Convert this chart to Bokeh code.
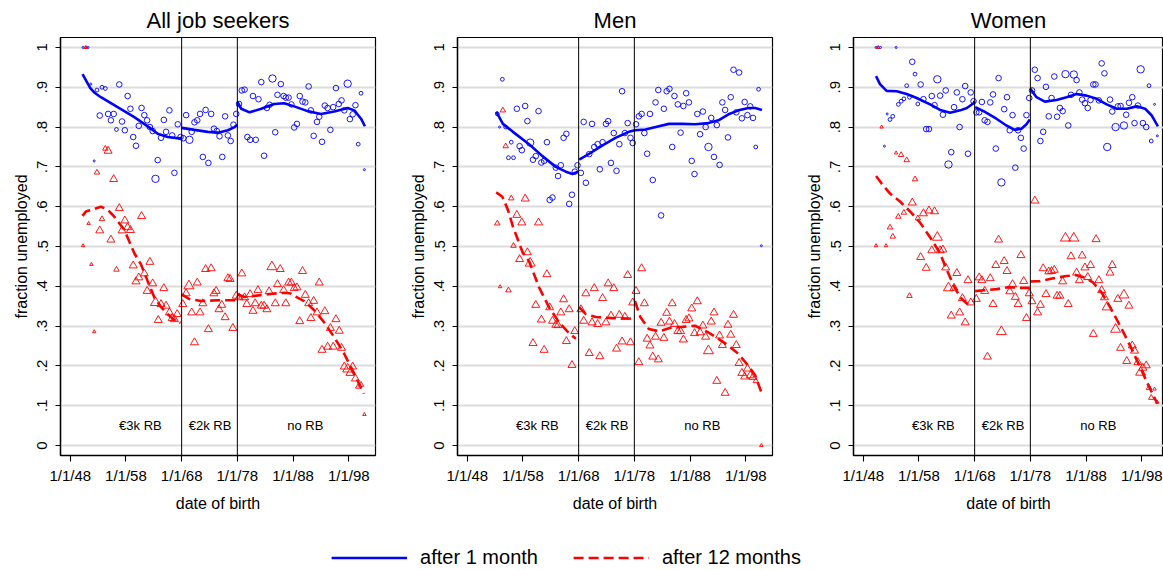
from bokeh.plotting import figure
from bokeh.models import Span, Legend, LegendItem, FixedTicker, Range1d
from bokeh.layouts import row, column
from bokeh.embed import file_html
from bokeh.resources import INLINE
from bokeh.core.properties import value

FONT = "Liberation Sans"
BLUE = "#0000ff"
RED = "#ff0000"

# ---- axes -------------------------------------------------------------
X_TICKS = [1948, 1958, 1968, 1978, 1988, 1998]
X_TICK_LABELS = ["1/1/48", "1/1/58", "1/1/68", "1/1/78", "1/1/88", "1/1/98"]
Y_TICKS = [0, 0.1, 0.2, 0.3, 0.4, 0.5, 0.6, 0.7, 0.8, 0.9, 1]
Y_TICK_LABELS = ["0", ".1", ".2", ".3", ".4", ".5", ".6", ".7", ".8", ".9", "1"]

# regime boundaries and labels
REGIME_BREAKS = [1968, 1978]
REGIME_LABELS = ["€3k RB", "€2k RB", "no RB"]
REGIME_LABEL_X = [1960.6, 1973.1, 1990.2]
REGIME_LABEL_Y = 0.05

# ---- All job seekers ----------------------------------------------------
all_x1 = [1950.3, 1950.8, 1951.2, 1951.7, 1952.3, 1952.8, 1953.3, 1953.7, 1954.3, 1954.8,
          1955.3, 1955.8, 1956.3, 1956.8, 1957.3, 1957.8, 1958.3, 1958.8, 1959.3, 1959.8,
          1960.3, 1960.8, 1961.3, 1961.8, 1962.3, 1962.8, 1963.3, 1963.7, 1964.3, 1964.8,
          1965.2, 1965.8, 1966.3, 1966.7, 1967.3, 1967.8, 1968.3, 1968.8, 1969.4, 1969.8,
          1970.3, 1970.8, 1971.3, 1971.8, 1972.3, 1972.8, 1973.3, 1973.8, 1974.3, 1974.8,
          1975.3, 1975.8, 1976.3, 1976.8, 1977.3, 1977.8, 1978.3, 1978.8, 1979.3, 1979.8,
          1980.3, 1980.8, 1981.3, 1981.8, 1982.3, 1982.8, 1983.3, 1983.8, 1984.3, 1984.8,
          1985.2, 1985.8, 1986.3, 1986.7, 1987.2, 1987.7, 1988.2, 1988.7, 1989.2, 1989.7,
          1990.2, 1990.8, 1991.2, 1991.7, 1992.3, 1992.7, 1993.2, 1993.7, 1994.2, 1994.7,
          1995.2, 1995.7, 1996.2, 1996.7, 1997.2, 1997.8, 1998.2, 1998.7, 1999.2, 1999.7,
          2000.2, 2000.8]
all_y1 = [1.0, 1.0, 1.0, .908, .715, .893, .829, .9, .897, .833,
          .817, .833, .794, .907, .814, .792, .878, .846, .775, .753,
          .803, .848, .83, .817, .8, .79, .67, .717, .773, .818,
          .788, .842, .779, .685, .807, .775, .772, .83, .768, .788,
          .812, .817, .833, .725, .843, .71, .833, .796, .79, .777,
          .725, .827, .779, .765, .806, .833, .858, .892, .894, .775,
          .768, .878, .768, .87, .913, .728, .848, .856, .922, .787,
          .881, .908, .878, .874, .874, .857, .799, .808, .878, .864,
          .862, .902, .842, .778, .813, .826, .763, .854, .848, .793,
          .85, .898, .858, .867, .842, .909, .82, .832, .855, .757,
          .885, .693]
all_size_codes = {"T": [0, 1, 2, 3, 4, 101], "S": [5, 7, 8, 12, 99, 100], "L": [26, 38, 68, 95]}

all_x12 = [1950.3, 1950.8, 1951.3, 1951.8, 1952.3, 1952.8, 1953.3, 1953.7, 1954.3, 1954.8,
           1955.3, 1955.8, 1956.3, 1956.8, 1957.3, 1957.8, 1958.3, 1958.8, 1959.3, 1959.8,
           1960.3, 1960.8, 1961.3, 1961.8, 1962.3, 1962.8, 1963.3, 1963.8, 1964.3, 1964.8,
           1965.2, 1965.8, 1966.3, 1966.7, 1967.2, 1968.2, 1968.8, 1969.3, 1969.8, 1970.3,
           1970.8, 1971.3, 1971.8, 1972.3, 1972.8, 1973.3, 1973.8, 1974.2, 1974.7, 1975.2,
           1975.8, 1976.3, 1976.7, 1977.2, 1977.8, 1978.3, 1978.8, 1979.3, 1979.7, 1980.3,
           1980.8, 1981.2, 1981.7, 1982.3, 1982.8, 1983.3, 1983.7, 1984.2, 1984.8, 1985.2,
           1985.7, 1986.3, 1986.7, 1987.2, 1987.7, 1988.2, 1988.7, 1989.2, 1989.7, 1990.2,
           1990.8, 1991.2, 1991.7, 1992.3, 1992.7, 1993.2, 1993.7, 1994.2, 1994.7, 1995.2,
           1995.7, 1996.3, 1996.7, 1997.2, 1997.8, 1998.2, 1998.7, 1999.2, 1999.7, 2000.2,
           2000.8]
all_y12 = [.502, 1.0, .558, .455, .286, .686, .54, .569, .746, .74,
           .517, .669, .442, .596, .54, .565, .548, .541, .452, .412,
           .422, .576, .432, .388, .461, .407, .359, .315, .355, .395,
           .351, .334, .32, .317, .33, .355, .382, .401, .334, .259,
           .409, .334, .357, .443, .292, .445, .382, .388, .342, .353,
           .322, .42, .418, .295, .376, .372, .432, .372, .355, .38,
           .338, .357, .39, .351, .351, .342, .387, .449, .357, .405,
           .443, .39, .357, .409, .409, .395, .397, .312, .438, .378,
           .357, .32, .363, .334, .409, .24, .337, .248, .295, .248,
           .317, .288, .245, .198, .192, .182, .198, .168, .148, .153,
           .078]

all_fit1_x = [[1950.2, 1951.6, 1952.3, 1953.5, 1956.5, 1959.5, 1962.5, 1963.7, 1965.5, 1967.9],
              [1968.0, 1970.3, 1972.7, 1974.5, 1976.3, 1977.5, 1978.0],
              [1978.0, 1978.7, 1980.2, 1982.3, 1984.6, 1986.4, 1988.2, 1990.6, 1993.0, 1995.4,
               1997.8, 1999.0, 2000.2, 2000.9]]
all_fit1_y = [[.933, .898, .887, .875, .85, .825, .796, .783, .775, .771],
              [.798, .793, .788, .786, .792, .8, .806],
              [.863, .846, .837, .846, .858, .86, .852, .84, .833, .839,
               .848, .842, .821, .802]]
all_fit12_x = [[1950.2, 1950.8, 1952.0, 1953.5, 1954.7, 1955.9, 1957.7, 1959.5, 1960.7, 1961.9,
                1963.1, 1964.3, 1965.5, 1966.7, 1967.8],
               [1968.0, 1969.4, 1971.5, 1974.5, 1978.0],
               [1978.0, 1979.3, 1981.1, 1983.4, 1986.4, 1987.6, 1988.2, 1990.0, 1991.8, 1993.6,
                1995.4, 1997.2, 1999.0, 2000.7]]
all_fit12_y = [[.577, .588, .593, .6, .593, .575, .542, .483, .455, .413,
                .372, .348, .33, .315, .308],
               [.38, .368, .363, .365, .365],
               [.38, .373, .376, .38, .384, .382, .376, .363, .34, .309,
                .272, .23, .18, .13]]

# ---- Men ---------------------------------------------------------------
men_x1 = [1953.4, 1953.8, 1954.3, 1954.9, 1955.4, 1955.9, 1956.3, 1956.9, 1957.4, 1957.8,
          1958.4, 1958.8, 1959.3, 1959.8, 1960.3, 1960.8, 1961.3, 1961.8, 1962.3, 1962.8,
          1963.3, 1963.9, 1964.3, 1964.8, 1965.3, 1965.8, 1966.3, 1966.8, 1967.3, 1967.8,
          1968.4, 1968.9, 1969.3, 1969.9, 1970.4, 1970.8, 1971.4, 1971.8, 1972.3, 1972.9,
          1973.3, 1973.8, 1974.3, 1974.8, 1975.3, 1975.8, 1976.3, 1976.8, 1977.3, 1977.7,
          1978.3, 1978.8, 1979.3, 1979.8, 1980.3, 1980.8, 1981.3, 1981.8, 1982.3, 1982.8,
          1983.3, 1983.8, 1984.3, 1984.8, 1985.2, 1985.8, 1986.3, 1986.8, 1987.3, 1987.8,
          1988.3, 1988.8, 1989.3, 1989.8, 1990.3, 1990.8, 1991.3, 1991.8, 1992.3, 1992.8,
          1993.3, 1993.8, 1994.3, 1994.8, 1995.3, 1995.8, 1996.3, 1996.8, 1997.3, 1997.8,
          1998.3, 1998.8, 1999.3, 1999.8, 2000.3, 2000.8]
men_y1 = [.833, .8, .92, .8, .723, .762, .723, .846, .752, .742,
          .853, .815, .761, .718, .727, .84, .711, .715, .762, .617,
          .623, .698, .677, .704, .773, .783, .607, .63, .688, .704,
          .685, .813, .66, .732, .808, .75, .757, .694, .762, .808,
          .815, .71, .785, .69, .757, .89, .785, .81, .773, .76,
          .807, .827, .833, .785, .733, .833, .667, .862, .893, .578,
          .846, .89, .896, .75, .878, .857, .786, .853, .885, .862,
          .715, .682, .833, .782, .839, .8, .75, .823, .725, .805,
          .705, .862, .843, .774, .875, .944, .837, .937, .822, .863,
          .83, .852, .823, .75, .895, .502]
men_size_codes = {"T": [1, 95], "S": [0, 2, 3, 4, 5, 6, 93, 94], "L": [12, 76]}

men_x12 = [1953.4, 1953.9, 1954.4, 1954.9, 1955.4, 1955.9, 1956.3, 1956.9, 1957.4, 1957.8,
           1958.4, 1958.8, 1959.3, 1959.8, 1960.3, 1960.8, 1961.3, 1961.8, 1962.3, 1962.8,
           1963.3, 1963.9, 1964.3, 1964.8, 1965.3, 1965.8, 1966.3, 1966.8, 1967.3, 1968.4,
           1968.9, 1969.3, 1969.9, 1970.4, 1970.8, 1971.4, 1971.8, 1972.3, 1972.9, 1973.3,
           1973.8, 1974.3, 1974.8, 1975.3, 1975.8, 1976.3, 1976.8, 1977.3, 1977.7, 1978.3,
           1978.8, 1979.3, 1979.8, 1980.3, 1980.8, 1981.3, 1981.8, 1982.3, 1982.8, 1983.3,
           1983.8, 1984.3, 1984.8, 1985.2, 1985.8, 1986.3, 1986.8, 1987.3, 1987.8, 1988.3,
           1988.8, 1989.3, 1989.8, 1990.3, 1990.8, 1991.3, 1991.8, 1992.3, 1992.8, 1993.3,
           1993.8, 1994.3, 1994.8, 1995.3, 1995.8, 1996.3, 1996.8, 1997.3, 1997.8, 1998.3,
           1998.8, 1999.3, 1999.8, 2000.8]
men_y12 = [.558, .399, .842, .752, .39, .621, .502, .579, .468, .56,
           .62, .485, .458, .257, .353, .56, .316, .24, .43, .347,
           .313, .303, .302, .334, .367, .262, .342, .202, .287, .342,
           .313, .382, .232, .309, .395, .305, .224, .37, .309, .407,
           .326, .395, .243, .328, .261, .323, .428, .259, .359, .388,
           .209, .445, .357, .268, .251, .223, .273, .216, .308, .27,
           .333, .311, .357, .305, .287, .287, .266, .315, .319, .344,
           .282, .362, .284, .301, .273, .238, .311, .334, .162, .276,
           .252, .132, .303, .278, .328, .252, .207, .182, .173, .193,
           .176, .172, .162, 0.0]

men_fit1_x = [[1953.2, 1954.4, 1956.2, 1959.1, 1961.5, 1963.9, 1965.7, 1966.9, 1967.9],
              [1968.1, 1969.9, 1972.3, 1974.6, 1977.0, 1978.1],
              [1978.1, 1980.0, 1982.4, 1984.2, 1986.6, 1988.9, 1991.3, 1993.1, 1994.9, 1996.7,
               1998.5, 1999.7, 2000.9]]
men_fit1_y = [[.839, .808, .788, .757, .727, .7, .688, .682, .688],
              [.718, .733, .754, .773, .788, .792],
              [.792, .794, .802, .808, .808, .807, .81, .817, .832, .842,
               .848, .848, .843]]
men_fit12_x = [[1953.2, 1954.3, 1955.3, 1956.2, 1958.0, 1959.1, 1960.9, 1962.7, 1964.5, 1966.3,
                1967.5],
               [1968.1, 1969.3, 1971.1, 1974.0, 1977.0, 1978.0],
               [1978.1, 1979.1, 1980.6, 1982.4, 1984.8, 1986.6, 1988.9, 1991.3, 1993.1, 1994.9,
                1996.7, 1998.5, 1999.7, 2000.9]]
men_fit12_y = [[.636, .625, .592, .55, .483, .463, .397, .347, .309, .282,
                .268],
               [.347, .33, .323, .32, .319, .318],
               [.363, .322, .293, .287, .297, .298, .301, .284, .268, .251,
                .23, .2, .176, .13]]

# ---- Women -------------------------------------------------------------
wom_x1 = [1950.3, 1950.7, 1951.1, 1951.8, 1952.3, 1952.8, 1953.3, 1953.9, 1954.3, 1954.8,
          1955.3, 1955.8, 1956.3, 1956.8, 1957.3, 1957.8, 1958.3, 1958.8, 1959.3, 1959.8,
          1960.3, 1960.8, 1961.3, 1961.8, 1962.3, 1962.8, 1963.3, 1963.8, 1964.3, 1964.8,
          1965.3, 1965.8, 1966.3, 1966.8, 1967.3, 1967.8, 1968.3, 1968.8, 1969.3, 1969.8,
          1970.3, 1970.8, 1971.3, 1971.8, 1972.3, 1972.8, 1973.3, 1973.8, 1974.3, 1974.8,
          1975.3, 1975.8, 1976.3, 1976.8, 1977.3, 1977.8, 1978.3, 1978.8, 1979.3, 1979.8,
          1980.3, 1980.8, 1981.3, 1981.8, 1982.3, 1982.8, 1983.3, 1983.8, 1984.3, 1984.8,
          1985.3, 1985.8, 1986.3, 1986.8, 1987.3, 1987.8, 1988.3, 1988.8, 1989.3, 1989.7,
          1990.3, 1990.8, 1991.3, 1991.8, 1992.3, 1992.7, 1993.3, 1993.7, 1994.2, 1994.8,
          1995.2, 1995.7, 1996.3, 1996.7, 1997.3, 1997.8, 1998.2, 1998.8, 1999.3, 1999.7,
          2000.3, 2000.8]
wom_y1 = [1.0, 1.0, 1.0, .752, .833, .819, .827, 1.0, .857, .865,
          .871, .904, .875, .964, .933, .858, .907, .87, .795, .795,
          .878, .855, .92, .879, .831, .892, .706, .737, .85, .887,
          .8, .87, .903, .733, .887, .865, .837, .837, .863, .817,
          .813, .862, .882, .746, .923, .661, .845, .875, .792, .83,
          .698, .792, .773, .746, .83, .873, .892, .944, .923, .765,
          .788, .901, .827, .873, .927, .826, .848, .84, .933, .804,
          .881, .932, .918, .887, .869, .86, .848, .868, .907, .907,
          .867, .96, .935, .75, .869, .839, .8, .852, .853, .804,
          .831, .861, .875, .81, .854, .945, .81, .8, .904, .765,
          .857, .778]
wom_size_codes = {"T": [0, 1, 2, 3, 4, 7, 100, 101],
                  "S": [5, 6, 8, 9, 10, 11, 12, 14, 15, 98, 99],
                  "L": [22, 26, 45, 68, 71, 83, 86, 89, 95]}

wom_x12 = [1950.3, 1950.7, 1951.3, 1952.1, 1952.8, 1953.3, 1953.9, 1954.3, 1954.8, 1955.3,
           1955.8, 1956.3, 1956.8, 1957.3, 1957.8, 1958.3, 1958.8, 1959.3, 1959.8, 1960.3,
           1960.8, 1961.3, 1961.8, 1962.3, 1962.8, 1963.3, 1963.8, 1964.3, 1964.8, 1965.3,
           1965.8, 1966.3, 1966.8, 1967.3, 1968.3, 1968.8, 1969.3, 1969.8, 1970.3, 1970.8,
           1971.3, 1971.8, 1972.3, 1972.8, 1973.3, 1973.8, 1974.3, 1974.8, 1975.3, 1975.8,
           1976.3, 1976.8, 1977.3, 1977.8, 1978.3, 1978.8, 1979.3, 1979.8, 1980.3, 1980.8,
           1981.3, 1981.8, 1982.3, 1982.8, 1983.3, 1983.8, 1984.3, 1984.8, 1985.3, 1985.8,
           1986.3, 1986.8, 1987.3, 1987.8, 1988.3, 1988.8, 1989.3, 1989.8, 1990.3, 1990.8,
           1991.3, 1991.8, 1992.3, 1992.7, 1993.3, 1993.7, 1994.2, 1994.8, 1995.3, 1995.7,
           1996.3, 1996.7, 1997.3, 1997.8, 1998.2, 1998.8, 1999.3, 1999.7, 2000.3, 2000.8]
wom_y12 = [.502, 1.0, .8, .502, .548, .525, .735, .575, .73, .585,
           .717, .376, .61, .669, .571, .473, .583, .446, .59, .49,
           .588, .523, .49, .492, .447, .396, .326, .396, .433, .334,
           .37, .309, .415, .359, .368, .422, .415, .388, .223, .42,
           .355, .453, .517, .286, .463, .438, .387, .405, .373, .355,
           .478, .413, .32, .382, .362, .615, .334, .353, .445, .38,
           .437, .438, .441, .376, .376, .412, .521, .355, .475, .521,
           .434, .415, .477, .447, .423, .453, .28, .518, .415, .39,
           .372, .348, .434, .453, .292, .368, .245, .378, .212, .351,
           .251, .238, .209, .184, .195, .201, .145, .12, .142, .109]

wom_fit1_x = [[1950.3, 1951.0, 1952.2, 1954.0, 1955.8, 1957.6, 1960.0, 1961.8, 1963.6, 1965.4,
               1966.6, 1967.8, 1968.0],
              [1968.1, 1969.6, 1971.9, 1973.7, 1975.2, 1976.4, 1977.3, 1977.9],
              [1978.0, 1979.1, 1980.6, 1982.7, 1984.5, 1986.3, 1988.1, 1989.9, 1991.7, 1993.5,
               1995.3, 1997.1, 1998.6, 1999.8, 2000.9]]
wom_fit1_y = [[.928, .908, .891, .89, .883, .873, .857, .843, .836, .842,
               .848, .86, .865],
              [.85, .84, .821, .804, .793, .796, .807, .819],
              [.896, .875, .864, .868, .875, .883, .879, .871, .857, .846,
               .846, .852, .846, .829, .802]]
wom_fit12_x = [[1950.3, 1951.3, 1952.8, 1954.6, 1956.4, 1958.2, 1960.0, 1961.8, 1962.7, 1964.2,
                1965.4, 1966.6, 1967.5],
               [1968.1, 1969.6, 1972.0, 1974.3, 1976.1, 1977.9],
               [1978.0, 1979.7, 1982.1, 1984.5, 1986.3, 1987.8, 1989.3, 1990.8, 1992.3, 1994.1,
                1995.9, 1997.7, 1999.2, 2000.8]]
wom_fit12_y = [[.677, .658, .633, .613, .588, .56, .523, .483, .451, .403,
                .372, .357, .351],
               [.388, .39, .393, .398, .396, .396],
               [.412, .413, .42, .426, .428, .422, .409, .384, .348, .301,
                .251, .197, .151, .105]]

# marker diameters (px) per weight class
CIRCLE_SIZE = {"T": 2.0, "S": 3.8, "M": 5.6, "L": 7.4}
TRIANGLE_SIZE = {"T": 3.5, "S": 5.5, "M": 8.0, "L": 10.0}

X_START = 1946.25
X_SPAN_PER_PX = 56.55 / 315.0
FRAME_H = 418


def size_classes(n, codes):
    cls = ["M"] * n
    for code, idx in codes.items():
        for i in idx:
            if i < n:
                cls[i] = code
    return cls


def make_panel(title, frame_w, border_r, x1, y1, codes, x12, y12, f1x, f1y, f12x, f12y):
    x_end = X_START + frame_w * X_SPAN_PER_PX
    p = figure(title=title, frame_width=frame_w, frame_height=FRAME_H,
               x_range=Range1d(X_START, x_end), y_range=Range1d(-0.025, 1.025),
               min_border_left=60, min_border_right=border_r,
               min_border_top=37, min_border_bottom=89,
               output_backend="svg", toolbar_location=None,
               background_fill_color="white", border_fill_color="white")
    p.title.text_font = FONT
    p.title.text_font_size = "22px"
    p.title.text_font_style = "normal"
    p.title.align = "center"
    p.title.text_color = "black"
    p.title.standoff = 9

    p.outline_line_color = "black"
    p.outline_line_width = 1.2

    p.xaxis.ticker = FixedTicker(ticks=X_TICKS)
    p.xaxis.major_label_overrides = dict(zip(X_TICKS, X_TICK_LABELS))
    p.yaxis.ticker = FixedTicker(ticks=Y_TICKS)
    p.yaxis.major_label_overrides = dict(zip(Y_TICKS, Y_TICK_LABELS))
    p.yaxis.major_label_orientation = "parallel"
    p.xaxis.axis_label = "date of birth"
    p.yaxis.axis_label = "fraction unemployed"
    for ax in (p.xaxis[0], p.yaxis[0]):
        ax.axis_line_color = "black"
        ax.axis_line_width = 1.4
        ax.major_tick_line_color = "black"
        ax.major_tick_line_width = 1.1
        ax.major_tick_in = 0
        ax.minor_tick_line_color = None
        ax.major_label_text_font = FONT
        ax.major_label_text_font_size = "15px"
        ax.major_label_text_color = "black"
        ax.axis_label_text_font = FONT
        ax.axis_label_text_font_size = "16px"
        ax.axis_label_text_font_style = "normal"
        ax.axis_label_text_color = "black"
    p.xaxis.major_tick_out = 6
    p.xaxis.major_label_standoff = 5
    p.xaxis.axis_label_standoff = 8
    p.yaxis.major_tick_out = 5
    p.yaxis.major_label_standoff = 8
    p.yaxis.axis_label_standoff = 5

    p.xgrid.visible = False
    p.ygrid.grid_line_color = "#dcdcdc"
    p.ygrid.grid_line_width = 1.8

    cls1 = size_classes(len(x1), codes)
    csize = [CIRCLE_SIZE[c] for c in cls1]
    # a cohort's weight is shared by both outcomes
    tsize = []
    for xv in x12:
        j = min(range(len(x1)), key=lambda k: abs(x1[k] - xv))
        tsize.append(TRIANGLE_SIZE[cls1[j]])

    p.scatter(x1, y1, marker="circle", size=csize, fill_color=None,
              line_color=BLUE, line_width=0.9)
    p.scatter(x12, y12, marker="triangle", size=tsize, fill_color=None,
              line_color=RED, line_width=0.9)

    for xs, ys in zip(f1x, f1y):
        p.line(xs, ys, line_color=BLUE, line_width=2.6)
    for xs, ys in zip(f12x, f12y):
        p.line(xs, ys, line_color=RED, line_width=2.6, line_dash="10 5")

    for b in REGIME_BREAKS:
        p.add_layout(Span(location=b, dimension="height", line_color="black", line_width=1))

    p.text(x=REGIME_LABEL_X, y=[REGIME_LABEL_Y] * len(REGIME_LABELS), text=REGIME_LABELS,
           text_align="center", text_baseline="middle", text_font=value(FONT),
           text_font_size="13px", text_color="black")
    return p


p1 = make_panel("All job seekers", 315, 22, all_x1, all_y1, all_size_codes, all_x12, all_y12,
                all_fit1_x, all_fit1_y, all_fit12_x, all_fit12_y)
p2 = make_panel("Men", 315, 21, men_x1, men_y1, men_size_codes, men_x12, men_y12,
                men_fit1_x, men_fit1_y, men_fit12_x, men_fit12_y)
p3 = make_panel("Women", 310, 0, wom_x1, wom_y1, wom_size_codes, wom_x12, wom_y12,
                wom_fit1_x, wom_fit1_y, wom_fit12_x, wom_fit12_y)

# shared legend below the panels; the key renderers sit outside the visible range
lg = figure(width=1132, height=26, toolbar_location=None, output_backend="svg",
            min_border=0, outline_line_color=None,
            x_range=Range1d(0, 1), y_range=Range1d(0, 1))
lg.axis.visible = False
lg.grid.visible = False
r1 = lg.line([5, 6], [5, 6], line_color=BLUE, line_width=2.7)
r12 = lg.line([5, 6], [5, 6], line_color=RED, line_width=2.7, line_dash="10 5")
legend = Legend(items=[LegendItem(label="after 1 month", renderers=[r1]),
                       LegendItem(label="after 12 months", renderers=[r12])],
                orientation="horizontal", location="center",
                glyph_width=76, glyph_height=20, label_height=20, label_standoff=13,
                spacing=35, padding=0, margin=0, border_line_color=None,
                background_fill_alpha=0,
                label_text_font=FONT, label_text_font_size="20px", label_text_color="black")
lg.add_layout(legend)

layout = column(row(p1, p2, p3), lg)
open("out.html", "w").write(file_html(layout, INLINE))
